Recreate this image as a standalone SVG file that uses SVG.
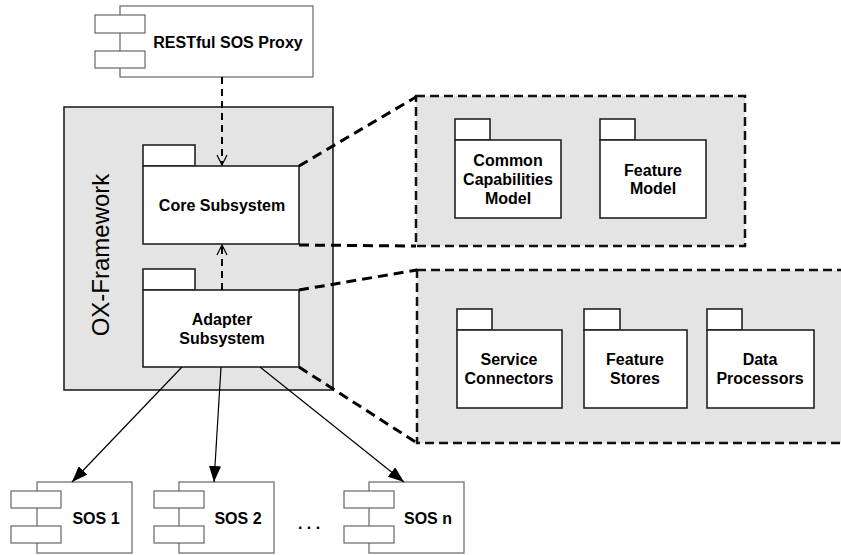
<svg xmlns="http://www.w3.org/2000/svg" width="841" height="555" viewBox="0 0 841 555">
  <style>
    .lbl { font-family: "Liberation Sans", Arial, sans-serif; font-weight: bold; font-size: 16px; fill: #000; text-anchor: middle; }
    .frame { font-family: "Liberation Sans", Arial, sans-serif; font-size: 24px; fill: #000; text-anchor: middle; }
    .comp { fill: #fff; stroke: #666; stroke-width: 1.2; }
    .pkg { fill: #fff; stroke: #222; stroke-width: 1.6; }
    .zone { fill: #e4e4e4; stroke: #111; stroke-width: 2.5; stroke-dasharray: 9 5; }
    .proj { fill: none; stroke: #000; stroke-width: 3; stroke-dasharray: 10 6; }
    .dep { fill: none; stroke: #000; stroke-width: 2; stroke-dasharray: 7 5; }
    .use { fill: none; stroke: #000; stroke-width: 1.2; }
  </style>
  <defs>
    <marker id="open" viewBox="0 0 12 12" refX="11" refY="6" markerWidth="12" markerHeight="12" markerUnits="userSpaceOnUse" orient="auto">
      <path d="M1,1 L11,6 L1,11" fill="none" stroke="#000" stroke-width="1.2"/>
    </marker>
    <marker id="solid" viewBox="0 0 16 12" refX="16" refY="6" markerWidth="16" markerHeight="12" markerUnits="userSpaceOnUse" orient="auto">
      <path d="M0,0 L16,6 L0,12 Z" fill="#000"/>
    </marker>
  </defs>

  <!-- OX-Framework container -->
  <g id="ox-framework">
    <rect x="64" y="107" width="269" height="283" fill="#e4e4e4" stroke="#222" stroke-width="1.6"/>
    <text class="frame" transform="translate(109,255) rotate(-90)">OX-Framework</text>
  </g>

  <!-- detail zones -->
  <g id="core-detail">
    <rect class="zone" x="416" y="96" width="329" height="150"/>
  </g>
  <g id="adapter-detail">
    <rect class="zone" x="417" y="270" width="440" height="173"/>
  </g>

  <!-- RESTful SOS Proxy component -->
  <g id="restful-proxy">
    <rect class="comp" x="120" y="6" width="193" height="71"/>
    <rect class="comp" x="95" y="15" width="50" height="18"/>
    <rect class="comp" x="95" y="51" width="50" height="17"/>
    <text class="lbl" x="228" y="48">RESTful SOS Proxy</text>
  </g>

  <!-- Core Subsystem package -->
  <g id="core-subsystem">
    <rect class="pkg" x="143" y="145" width="52" height="21"/>
    <rect class="pkg" x="143" y="166" width="156" height="78"/>
    <text class="lbl" x="222" y="211">Core Subsystem</text>
  </g>

  <!-- Adapter Subsystem package -->
  <g id="adapter-subsystem">
    <rect class="pkg" x="143" y="269" width="52" height="21"/>
    <rect class="pkg" x="143" y="290" width="156" height="77"/>
    <text class="lbl" x="222" y="325">Adapter</text>
    <text class="lbl" x="222" y="344">Subsystem</text>
  </g>

  <!-- Core detail packages -->
  <g id="common-capabilities-model">
    <rect class="pkg" x="455" y="119" width="35" height="21"/>
    <rect class="pkg" x="455" y="140" width="106" height="78"/>
    <text class="lbl" x="508" y="166">Common</text>
    <text class="lbl" x="508" y="185">Capabilities</text>
    <text class="lbl" x="508" y="204">Model</text>
  </g>
  <g id="feature-model">
    <rect class="pkg" x="600" y="119" width="35" height="21"/>
    <rect class="pkg" x="600" y="140" width="106" height="78"/>
    <text class="lbl" x="653" y="176">Feature</text>
    <text class="lbl" x="653" y="194">Model</text>
  </g>

  <!-- Adapter detail packages -->
  <g id="service-connectors">
    <rect class="pkg" x="457" y="309" width="35" height="21"/>
    <rect class="pkg" x="457" y="330" width="105" height="78"/>
    <text class="lbl" x="509" y="365">Service</text>
    <text class="lbl" x="509" y="384">Connectors</text>
  </g>
  <g id="feature-stores">
    <rect class="pkg" x="584" y="309" width="36" height="21"/>
    <rect class="pkg" x="584" y="330" width="103" height="78"/>
    <text class="lbl" x="635" y="365">Feature</text>
    <text class="lbl" x="635" y="384">Stores</text>
  </g>
  <g id="data-processors">
    <rect class="pkg" x="707" y="309" width="35" height="21"/>
    <rect class="pkg" x="707" y="330" width="107" height="78"/>
    <text class="lbl" x="760" y="365">Data</text>
    <text class="lbl" x="760" y="384">Processors</text>
  </g>

  <!-- SOS instances -->
  <g id="sos-1">
    <rect class="comp" x="37" y="482" width="95" height="71"/>
    <rect class="comp" x="11" y="491" width="50" height="17"/>
    <rect class="comp" x="11" y="526" width="50" height="17"/>
    <text class="lbl" x="96" y="524">SOS 1</text>
  </g>
  <g id="sos-2">
    <rect class="comp" x="179" y="482" width="95" height="71"/>
    <rect class="comp" x="154" y="491" width="50" height="17"/>
    <rect class="comp" x="154" y="526" width="50" height="17"/>
    <text class="lbl" x="238" y="524">SOS 2</text>
  </g>
  <text class="lbl" x="309" y="529">. . .</text>
  <g id="sos-n">
    <rect class="comp" x="369" y="482" width="95" height="71"/>
    <rect class="comp" x="344" y="491" width="50" height="17"/>
    <rect class="comp" x="344" y="526" width="50" height="17"/>
    <text class="lbl" x="428" y="524">SOS n</text>
  </g>

  <!-- connectors -->
  <g id="connectors">
    <line class="dep" x1="222" y1="77" x2="222" y2="165" marker-end="url(#open)"/>
    <line class="dep" x1="222" y1="290" x2="222" y2="245" marker-end="url(#open)"/>
    <line class="proj" x1="299" y1="166" x2="416" y2="97"/>
    <line class="proj" x1="299" y1="245" x2="416" y2="246"/>
    <line class="proj" x1="299" y1="290" x2="417" y2="270"/>
    <line class="proj" x1="299" y1="367" x2="417" y2="443"/>
    <line class="use" x1="182" y1="367" x2="72" y2="482" marker-end="url(#solid)"/>
    <line class="use" x1="221" y1="367" x2="214" y2="482" marker-end="url(#solid)"/>
    <line class="use" x1="260" y1="367" x2="404" y2="482" marker-end="url(#solid)"/>
  </g>
</svg>
